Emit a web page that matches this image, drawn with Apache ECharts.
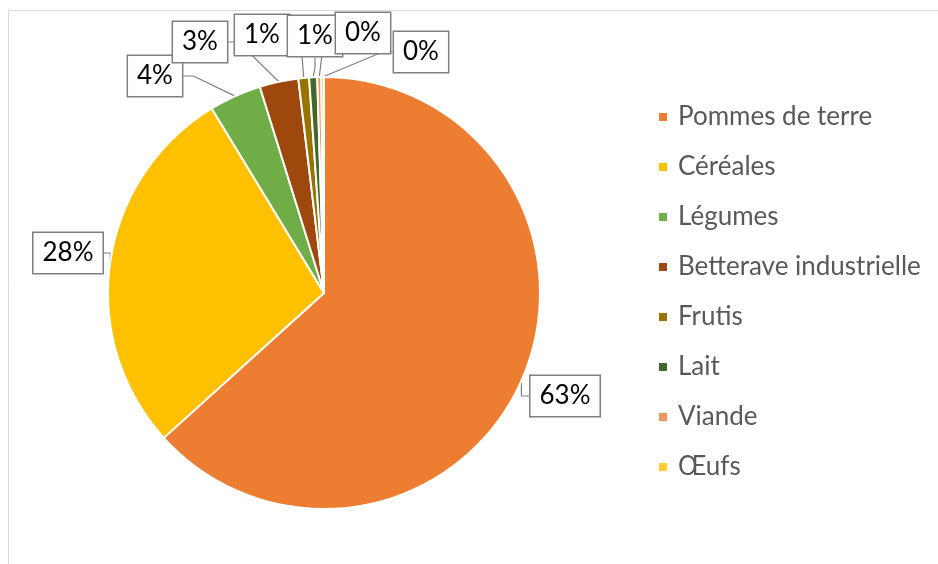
<!DOCTYPE html>
<html>
<head>
<meta charset="utf-8">
<script src="https://cdn.jsdelivr.net/npm/echarts@6/dist/echarts.min.js"></script>
<style>
  html, body { margin: 0; padding: 0; background: #fff; }
  #chart { width: 938px; height: 564px; }
</style>
</head>
<body>
<div id="chart"></div>
<script>
// categories and their shares (%)
const categories = ["Pommes de terre", "Céréales", "Légumes", "Betterave industrielle", "Frutis", "Lait", "Viande", "Œufs"];
const shares = [63.3, 28.0, 3.9, 2.9, 0.8, 0.6, 0.3, 0.2];
const colors = ["#ED7D31", "#FFC000", "#70AD47", "#9E480E", "#997300", "#43682B", "#F1975A", "#FFCD33"];

// where each callout box sits (center of box)
const labelSpots = [
  [565, 396], [68, 253], [155, 76], [200, 42],
  [262, 35], [315, 36], [363, 33], [421, 52]
];

const font = "Lato, 'Noto Sans', sans-serif";

const chart = echarts.init(document.getElementById("chart"));

chart.setOption({
  animation: false,
  color: colors,
  graphic: [{
    type: "rect",
    shape: { x: 8.5, y: 10.5, width: 1000, height: 1000 },
    style: { fill: "none", stroke: "#d9d9d9", lineWidth: 1 },
    silent: true
  }],
  legend: {
    orient: "vertical",
    left: 657,
    top: 104,
    padding: 0,
    itemWidth: 10,
    itemHeight: 10,
    itemGap: 24,
    icon: "rect",
    textStyle: { fontFamily: font, fontSize: 26, color: "#595959", lineHeight: 26, padding: [0, 0, 0, 5] },
    data: categories
  },
  series: [{
    type: "pie",
    center: [324, 293],
    radius: 216,
    startAngle: 90,
    clockwise: true,
    avoidLabelOverlap: false,
    minShowLabelAngle: 0,
    itemStyle: { borderColor: "#fff", borderWidth: 2 },
    label: {
      show: true,
      position: "outside",
      fontFamily: font,
      fontSize: 26,
      color: "#000",
      backgroundColor: "#fff",
      borderColor: "#7f7f7f",
      borderWidth: 1.5,
      padding: [7, 9],
      formatter: p => Math.round(p.value) + "%"
    },
    labelLine: {
      show: true,
      length: 10,
      length2: 10,
      lineStyle: { color: "#7f7f7f", width: 1.2 }
    },
    labelLayout: p => ({
      x: labelSpots[p.dataIndex][0],
      y: labelSpots[p.dataIndex][1],
      align: "center",
      verticalAlign: "middle"
    }),
    emphasis: { disabled: true },
    data: categories.map((c, i) => ({ name: c, value: shares[i] }))
  }]
});
</script>
</body>
</html>
